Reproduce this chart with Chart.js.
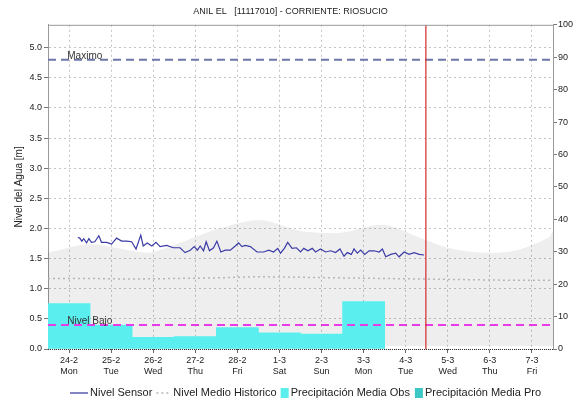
<!DOCTYPE html>
<html>
<head>
<meta charset="utf-8">
<script src="https://cdn.jsdelivr.net/npm/chart.js@4.4.1/dist/chart.umd.min.js"></script>
<style>
  html, body { margin: 0; padding: 0; background: #fff; }
  #wrap { width: 581px; height: 403px; }
</style>
</head>
<body>
<div id="wrap"><canvas id="nivelChart" width="581" height="403"></canvas></div>
<script>
// Días del eje X (etiqueta al mediodía de cada día)
const dayLabels = ["24-2", "25-2", "26-2", "27-2", "28-2", "1-3", "2-3", "3-3", "4-3", "5-3", "6-3", "7-3"];
const weekDays = ["Mon", "Tue", "Wed", "Thu", "Fri", "Sat", "Sun", "Mon", "Tue", "Wed", "Thu", "Fri"];

// Precipitación diaria observada (eje derecho)
const precipObs = [14.0, 7.4, 3.6, 3.8, 6.6, 5.0, 4.6, 14.6];
const precipPro = [];

// Nivel sensor: horas desde 24-2 00:00 y nivel [m]
const sensorHours = [17.0, 18.1, 19.3, 20.4, 22.0, 23.3, 24.8, 26.7, 29.0, 30.5, 33.4, 36.3, 39.1, 42.0, 44.9, 47.7,
  50.2, 52.9, 54.3, 56.6, 59.2, 61.6, 63.9, 67.7, 71.5, 75.3, 78.2, 81.1, 83.4, 85.2, 86.8, 88.7, 90.2, 92.1, 94.4,
  96.3, 98.6, 101.1, 104.0, 106.8, 108.7, 110.6, 112.5, 115.4, 119.2, 123.0, 125.9, 128.7, 131.0, 132.6, 134.8,
  136.7, 139.2, 141.7, 144.0, 145.9, 148.2, 150.7, 152.6, 155.4, 158.3, 161.2, 164.0, 166.5, 168.8, 170.7, 173.0,
  174.5, 176.4, 178.3, 180.6, 183.1, 185.9, 188.8, 190.7, 192.6, 195.5, 198.3, 200.2, 203.1, 205.9, 208.8, 211.7, 214.5];
const sensorLevels = [1.85, 1.84, 1.79, 1.83, 1.76, 1.83, 1.77, 1.78, 1.88, 1.77, 1.77, 1.74, 1.84, 1.79, 1.79, 1.78,
  1.66, 1.89, 1.71, 1.76, 1.71, 1.77, 1.70, 1.72, 1.68, 1.68, 1.60, 1.64, 1.70, 1.64, 1.71, 1.63, 1.78, 1.63, 1.68,
  1.79, 1.61, 1.64, 1.64, 1.71, 1.76, 1.70, 1.72, 1.70, 1.61, 1.61, 1.64, 1.61, 1.67, 1.59, 1.67,
  1.77, 1.67, 1.68, 1.61, 1.67, 1.63, 1.67, 1.61, 1.66, 1.61, 1.63, 1.60, 1.66, 1.54, 1.60, 1.57,
  1.66, 1.59, 1.64, 1.57, 1.63, 1.63, 1.61, 1.66, 1.53, 1.57, 1.59, 1.53, 1.61, 1.57, 1.60, 1.57, 1.56];

// Banda histórica (gris)
const bandHours = [0, 24, 48, 58, 72.5, 96.5, 121, 144, 167, 191.5, 212.5, 228, 247, 266, 285, 288];
const bandHigh = [1.60, 1.74, 1.63, 1.60, 1.73, 1.99, 2.14, 1.96, 1.93, 2.06, 1.84, 1.68, 1.60, 1.63, 1.84, 1.96];
const bandLow = [0.06, 0.06, 0.05, 0.05, 0.05, 0.06, 0.06, 0.05, 0.05, 0.05, 0.05, 0.05, 0.05, 0.05, 0.05, 0.05];

// Nivel medio histórico
const histHours = [0, 24, 48, 72, 96, 120, 144, 168, 192, 216, 240, 264, 288];
const histLevels = [1.17, 1.17, 1.16, 1.17, 1.18, 1.20, 1.19, 1.18, 1.17, 1.16, 1.15, 1.14, 1.14];

// Umbrales y hora actual
const nivelMaximo = 4.8;
const nivelBajo = 0.4;
const nowHour = 215.5;

const pairs = (xs, ys) => xs.map((x, i) => ({ x: x, y: ys[i] }));
const fontFam = "'Liberation Sans', Arial, sans-serif";

// Etiquetas de umbrales, marco y leyenda
const extrasPlugin = {
  id: "extras",
  afterDraw(chart) {
    const ctx = chart.ctx;
    const a = chart.chartArea;
    const xs = chart.scales.x;
    const ys = chart.scales.y;
    ctx.save();
    // marco superior
    ctx.strokeStyle = "#999";
    ctx.lineWidth = 1;
    ctx.beginPath();
    ctx.moveTo(a.left, a.top + 0.5);
    ctx.lineTo(a.right, a.top + 0.5);
    ctx.stroke();
    // eje inferior punteado
    ctx.strokeStyle = "#333";
    ctx.setLineDash([1, 1]);
    ctx.beginPath();
    ctx.moveTo(a.left, a.bottom + 0.5);
    ctx.lineTo(a.right, a.bottom + 0.5);
    ctx.stroke();
    ctx.setLineDash([]);

    // textos de umbrales
    ctx.fillStyle = "#333";
    ctx.font = "10px " + fontFam;
    ctx.textBaseline = "bottom";
    ctx.fillText("Maximo", xs.getPixelForValue(11), ys.getPixelForValue(nivelMaximo) + 1);
    ctx.fillText("Nivel Bajo", xs.getPixelForValue(11), ys.getPixelForValue(nivelBajo) + 1);

    // leyenda
    const y = 393;
    ctx.font = "11px " + fontFam;
    ctx.textBaseline = "middle";
    let x = 70;
    ctx.strokeStyle = "#33339a";
    ctx.lineWidth = 1.2;
    ctx.beginPath(); ctx.moveTo(x, y); ctx.lineTo(x + 18, y); ctx.stroke();
    x += 20;
    ctx.fillStyle = "#222";
    ctx.fillText("Nivel Sensor", x, y);
    x += ctx.measureText("Nivel Sensor").width + 4;
    ctx.strokeStyle = "#b5b5b5";
    ctx.lineWidth = 1.5;
    ctx.setLineDash([2, 3]);
    ctx.beginPath(); ctx.moveTo(x, y); ctx.lineTo(x + 15, y); ctx.stroke();
    ctx.setLineDash([]);
    x += 17;
    ctx.fillText("Nivel Medio Historico", x, y);
    x += ctx.measureText("Nivel Medio Historico").width + 4;
    ctx.fillStyle = "#5aeeee";
    ctx.fillRect(x, y - 5, 8, 10);
    x += 10;
    ctx.fillStyle = "#222";
    ctx.fillText("Precipitación Media Obs", x, y);
    x += ctx.measureText("Precipitación Media Obs").width + 5;
    ctx.fillStyle = "#3cc6c6";
    ctx.fillRect(x, y - 5, 8, 10);
    x += 10;
    ctx.fillStyle = "#222";
    ctx.fillText("Precipitación Media Pro", x, y);
    ctx.restore();
  },
};

const ctx = document.getElementById("nivelChart").getContext("2d");

new Chart(ctx, {
  data: {
    datasets: [
      {
        type: "line",
        label: "banda baja",
        data: pairs(bandHours, bandLow),
        borderWidth: 0,
        borderColor: "rgba(0,0,0,0)",
        pointRadius: 0,
        fill: false,
        order: 10,
      },
      {
        type: "line",
        label: "banda alta",
        data: pairs(bandHours, bandHigh),
        borderWidth: 0,
        borderColor: "rgba(0,0,0,0)",
        backgroundColor: "rgba(0,0,0,0.065)",
        pointRadius: 0,
        tension: 0.3,
        fill: "-1",
        order: 10,
      },
      {
        type: "bar",
        label: "Precipitación Media Obs",
        data: precipObs.map((v, i) => ({ x: 12 + 24 * i, y: v })),
        backgroundColor: "#5aeeee",
        borderWidth: 0,
        yAxisID: "y1",
        barPercentage: 1,
        categoryPercentage: 1,
        grouped: false,
        order: 5,
      },
      {
        type: "bar",
        label: "Precipitación Media Pro",
        data: precipPro,
        backgroundColor: "#3cc6c6",
        yAxisID: "y1",
        grouped: false,
        order: 5,
      },
      {
        type: "line",
        label: "Nivel Medio Historico",
        data: pairs(histHours, histLevels),
        borderColor: "#b5b5b5",
        borderWidth: 1.5,
        borderDash: [2, 3],
        pointRadius: 0,
        order: 3,
      },
      {
        type: "line",
        label: "Maximo",
        data: [{ x: 0, y: nivelMaximo }, { x: 288, y: nivelMaximo }],
        borderColor: "#6d76a8",
        borderWidth: 2,
        borderDash: [8, 5],
        pointRadius: 0,
        order: 2,
      },
      {
        type: "line",
        label: "Nivel Bajo",
        data: [{ x: 0, y: nivelBajo }, { x: 288, y: nivelBajo }],
        borderColor: "#e83be8",
        borderWidth: 2,
        borderDash: [8, 5],
        pointRadius: 0,
        order: 2,
      },
      {
        type: "line",
        label: "Nivel Sensor",
        data: pairs(sensorHours, sensorLevels),
        borderColor: "#3b3ba6",
        borderWidth: 1.2,
        pointRadius: 0,
        order: 1,
      },
      {
        type: "line",
        label: "Ahora",
        data: [{ x: nowHour, y: 0 }, { x: nowHour, y: 5.38 }],
        borderColor: "#d42a2a",
        borderWidth: 1.2,
        pointRadius: 0,
        order: 0,
      },
    ],
  },
  options: {
    responsive: false,
    animation: false,
    layout: { padding: { bottom: 22, left: 0, right: 0 } },
    plugins: {
      legend: { display: false },
      tooltip: { enabled: false },
      title: {
        display: true,
        text: "ANIL EL   [11117010] - CORRIENTE: RIOSUCIO",
        color: "#222",
        font: { family: fontFam, size: 9, weight: "normal" },
        padding: { top: 6, bottom: 8 },
      },
    },
    scales: {
      x: {
        type: "linear",
        offset: false,
        min: 0,
        max: 288,
        afterBuildTicks: (scale) => {
          scale.ticks = dayLabels.map((d, i) => ({ value: 12 + 24 * i }));
        },
        afterFit: (scale) => { scale.height = 32; },
        ticks: {
          autoSkip: false,
          maxRotation: 0,
          padding: 2,
          color: "#222",
          font: { family: fontFam, size: 9 },
          callback: (value, index) => [dayLabels[index], weekDays[index]],
        },
        grid: {
          offset: false,
          color: "#c4c4c4",
          tickLength: 4,
          tickColor: "#666",
          tickBorderDash: [],
        },
        border: { display: false, dash: [2, 3] },
      },
      y: {
        position: "left",
        min: 0,
        max: 5.38,
        afterFit: (scale) => { scale.width = 48; },
        ticks: {
          stepSize: 0.5,
          includeBounds: false,
          padding: 2,
          color: "#222",
          font: { family: fontFam, size: 9 },
          callback: (v) => v.toFixed(1),
        },
        grid: {
          color: "#c4c4c4",
          tickLength: 4,
          tickColor: "#777",
          tickBorderDash: [],
        },
        border: { color: "#999", dash: [2, 3] },
        title: {
          display: true,
          text: "Nivel del Agua [m]",
          color: "#222",
          font: { family: fontFam, size: 10 },
          padding: { top: 13, bottom: 0 },
        },
      },
      y1: {
        position: "right",
        min: 0,
        max: 100,
        afterFit: (scale) => { scale.width = 28; },
        ticks: {
          stepSize: 10,
          padding: 1,
          color: "#222",
          font: { family: fontFam, size: 9 },
        },
        grid: {
          display: true,
          drawOnChartArea: false,
          tickLength: 4,
          tickColor: "#777",
        },
        border: { color: "#999" },
      },
    },
  },
  plugins: [extrasPlugin],
});
</script>
</body>
</html>
